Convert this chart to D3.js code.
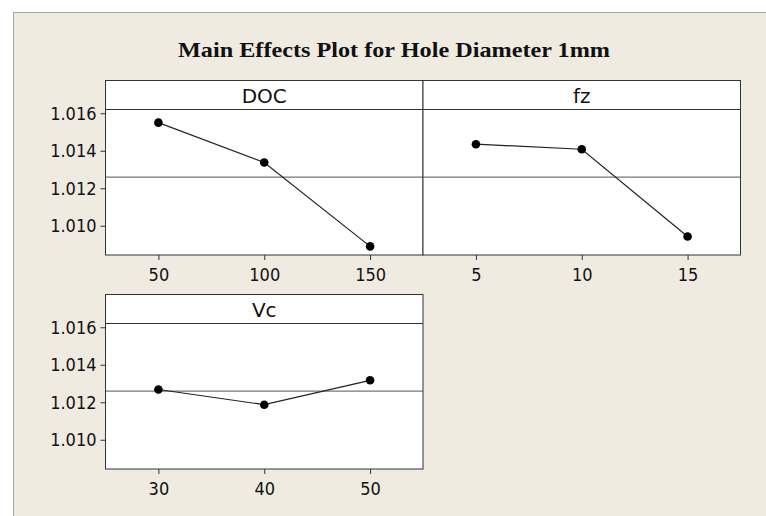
<!DOCTYPE html>
<meta charset="utf-8">
<style>
  body { margin: 0; background: #fff; }
  .tick text { font-family: "DejaVu Sans Condensed", "DejaVu Sans", sans-serif; font-size: 18px; fill: #111; }
  .strip { font-family: "DejaVu Sans", sans-serif; font-size: 20px; fill: #111; }
  .title { font-family: "Liberation Serif", "Times New Roman", serif; font-weight: bold; font-size: 22px; fill: #111; }
</style>
<body>
<script src="https://cdn.jsdelivr.net/npm/d3@7"></script>
<script>

    // data
    var docLevels = [50, 100, 150],
        docMeans = [1.0155, 1.01337, 1.0089];
    var fzLevels = [5, 10, 15],
        fzMeans = [1.01435, 1.01408, 1.00943];
    var vcLevels = [30, 40, 50],
        vcMeans = [1.01268, 1.01187, 1.01317];
    var yTicks = [1.010, 1.012, 1.014, 1.016];

    var grandMean = d3.mean(docMeans.concat(fzMeans, vcMeans));

    var width = 766, height = 516;

    var svg = d3.select("body").append("svg")
        .attr("width", width)
        .attr("height", height);

    // beige frame
    svg.append("rect")
        .attr("x", 13.5).attr("y", 12.5)
        .attr("width", width).attr("height", height)
        .attr("fill", "#efebe1")
        .attr("stroke", "#a8a8a8");

    svg.append("text")
        .attr("class", "title")
        .attr("x", 394).attr("y", 57)
        .attr("text-anchor", "middle")
        .attr("textLength", 432)
        .attr("lengthAdjust", "spacingAndGlyphs")
        .text("Main Effects Plot for Hole Diameter 1mm");

    var panelW = 317.5, panelH = 174.5, stripH = 29;

    var panels = [
        {name: "DOC", levels: docLevels, means: docMeans, x0: 105.5, y0: 80.5, dom: [25, 175], yaxis: true},
        {name: "fz", levels: fzLevels, means: fzMeans, x0: 423, y0: 80.5, dom: [2.5, 17.5], yaxis: false},
        {name: "Vc", levels: vcLevels, means: vcMeans, x0: 105.5, y0: 294.5, dom: [25, 55], yaxis: true}
    ];

    panels.forEach(function (p) {
        var g = svg.append("g")
            .attr("transform", "translate(" + p.x0 + "," + p.y0 + ")");

        var x = d3.scaleLinear().domain(p.dom).range([0, panelW]);
        var y = d3.scaleLinear().domain([1.00844, 1.0162]).range([panelH, stripH]);

        g.append("rect")
            .attr("width", panelW).attr("height", panelH)
            .attr("fill", "#fff");

        // strip
        g.append("line")
            .attr("x1", 0).attr("x2", panelW)
            .attr("y1", stripH).attr("y2", stripH)
            .attr("stroke", "#333");
        g.append("text")
            .attr("class", "strip")
            .attr("x", panelW / 2).attr("y", stripH - 7)
            .attr("text-anchor", "middle")
            .text(p.name);

        // grand mean reference line
        g.append("line")
            .attr("x1", 0).attr("x2", panelW)
            .attr("y1", y(grandMean)).attr("y2", y(grandMean))
            .attr("stroke", "#555");

        var pts = p.levels.map(function (l, i) { return [l, p.means[i]]; });

        g.append("path")
            .datum(pts)
            .attr("fill", "none")
            .attr("stroke", "#222")
            .attr("stroke-width", 1.2)
            .attr("d", d3.line()
                .x(function (d) { return x(d[0]); })
                .y(function (d) { return y(d[1]); }));

        g.selectAll(".dot")
            .data(pts)
            .enter().append("circle")
            .attr("class", "dot")
            .attr("cx", function (d) { return x(d[0]); })
            .attr("cy", function (d) { return y(d[1]); })
            .attr("r", 4.3)
            .attr("fill", "#000");

        g.append("rect")
            .attr("width", panelW).attr("height", panelH)
            .attr("fill", "none")
            .attr("stroke", "#333");

        // x axis
        var xa = g.append("g")
            .attr("transform", "translate(0," + panelH + ")")
            .call(d3.axisBottom(x).tickValues(p.levels).tickSize(5).tickPadding(8));
        xa.select(".domain").remove();
        xa.selectAll(".tick line").attr("stroke", "#333");

        if (p.yaxis) {
            var ya = g.append("g")
                .call(d3.axisLeft(y).tickValues(yTicks).tickFormat(d3.format(".3f")).tickSize(5).tickPadding(4));
            ya.select(".domain").remove();
            ya.selectAll(".tick line").attr("stroke", "#333");
        }
    });

</script>
</body>
